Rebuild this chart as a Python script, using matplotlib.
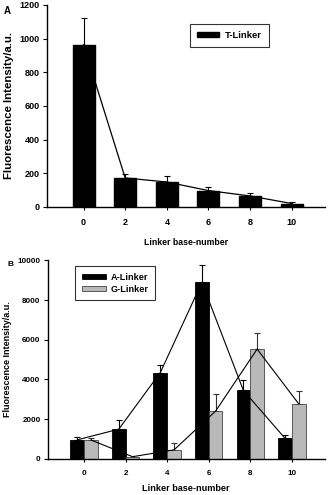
import numpy as np
import matplotlib
matplotlib.use('Agg')
from matplotlib import pyplot as plt

plt.rcParams['font.family'] = ['Liberation Sans', 'DejaVu Sans']
plt.rcParams['font.weight'] = 'bold'

linker_len = ['0', '2', '4', '6', '8', '10']

# panel A
t_mean = [963, 172, 148, 97, 65, 20]
t_err = [157, 25, 35, 21, 19, 7]

# panel B
a_mean = [958, 1497, 4350, 8890, 3445, 1040]
a_err = [165, 455, 390, 860, 525, 185]
g_mean = [950, 110, 454, 2405, 5530, 2775]
g_err = [90, 0, 340, 875, 810, 655]

GRAY = '#b9b9b9'


def style_axes(ax, tick_fs, xlab_fs, ylab_fs, xpad):
    for s in ['top', 'right']:
        ax.spines[s].set_visible(False)
    for s in ['left', 'bottom']:
        ax.spines[s].set_linewidth(1.0)
    ax.tick_params(axis='y', length=3, width=0.8, labelsize=tick_fs, pad=2)
    ax.tick_params(axis='x', length=2, width=0.8, labelsize=tick_fs, pad=6)
    ax.set_xticks(np.arange(len(linker_len)))
    ax.set_xticklabels(linker_len)
    ax.set_xlim(-0.88, 5.8)
    ax.set_xlabel('Linker base-number', fontsize=xlab_fs, fontweight='bold', labelpad=xpad)
    ax.set_ylabel('Fluorescence Intensity/a.u.', fontsize=ylab_fs, fontweight='bold', labelpad=4)


fig = plt.figure(figsize=(3.28, 4.95), dpi=100)

# ---- A ----
axA = fig.add_axes([0.143, 0.582, 0.848, 0.408])
x = np.arange(len(linker_len))
axA.bar(x, t_mean, width=0.53, color='black', edgecolor='black', label='T-Linker', zorder=2)
axA.errorbar(x, t_mean, yerr=[np.zeros(len(t_err)), t_err], fmt='none', ecolor='black',
             elinewidth=0.8, capsize=2.5, capthick=0.8, zorder=1)
axA.plot(x, t_mean, color='black', lw=0.9, zorder=3)
axA.set_ylim(0, 1200)
axA.set_yticks(np.arange(0, 1201, 200))
style_axes(axA, 6.5, 6.3, 8.2, 8)
legA = axA.legend(loc='upper left', bbox_to_anchor=(0.513, 0.907), fontsize=6.8, frameon=True,
                  fancybox=False, edgecolor='black', handlelength=2.4, handleheight=0.5,
                  borderpad=0.75, handletextpad=0.6, borderaxespad=0)
legA.get_frame().set_linewidth(0.8)
fig.text(0.01, 0.977, 'A', fontsize=7, fontweight='bold', va='center')

# ---- B ----
axB = fig.add_axes([0.145, 0.073, 0.846, 0.401])
w = 0.33
axB.bar(x - w / 2, a_mean, width=w, color='black', edgecolor='black', lw=0.6,
        label='A-Linker', zorder=2)
axB.bar(x + w / 2, g_mean, width=w, color=GRAY, edgecolor='#444444', lw=0.6,
        label='G-Linker', zorder=2)
axB.errorbar(x - w / 2, a_mean, yerr=[np.zeros(len(a_err)), a_err], fmt='none', ecolor='black',
             elinewidth=0.8, capsize=2.5, capthick=0.8, zorder=1)
axB.errorbar(x + w / 2, g_mean, yerr=[np.zeros(len(g_err)), g_err], fmt='none', ecolor='#333333',
             elinewidth=0.8, capsize=2.5, capthick=0.8, zorder=1)
axB.plot(x - w / 2, a_mean, color='black', lw=0.8, zorder=3)
axB.plot(x + w / 2, g_mean, color='black', lw=0.8, zorder=3)
axB.set_ylim(0, 10000)
axB.set_yticks(np.arange(0, 10001, 2000))
style_axes(axB, 5.8, 6.6, 6.5, 5)
legB = axB.legend(loc='upper left', bbox_to_anchor=(0.10, 0.97), fontsize=6.6, frameon=True,
                  fancybox=False, edgecolor='black', handlelength=2.6, handleheight=0.5,
                  borderpad=0.7, handletextpad=0.6, labelspacing=0.35, borderaxespad=0)
legB.get_frame().set_linewidth(0.8)
fig.text(0.022, 0.465, 'B', fontsize=6, fontweight='bold', va='center')

fig.savefig('out.png', dpi=100)
